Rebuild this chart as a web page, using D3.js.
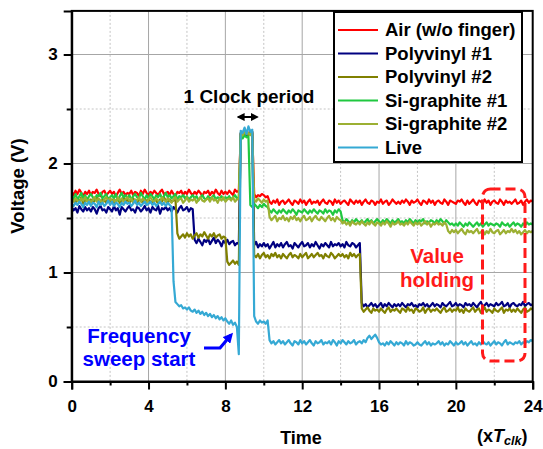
<!DOCTYPE html>
<html>
<head>
<meta charset="utf-8">
<script src="https://cdn.jsdelivr.net/npm/d3@7"></script>
<style>
  body { margin: 0; background: #fff; }
  svg text { font-family: "Liberation Sans", Arial, sans-serif; font-weight: bold; }
</style>
</head>
<body>
<svg id="chart" width="543" height="449"></svg>
<script>
// sampling interval of the traces, in units of T_clk
const dt = 0.1;

const seriesNames = ['Air (w/o finger)', 'Polyvinyl #1', 'Polyvinyl #2', 'Si-graphite #1', 'Si-graphite #2', 'Live'];
const seriesColors = ['#ff0000', '#000080', '#808000', '#20c840', '#9cb033', '#35a9d4'];

const airV = [
  1.74,1.71,1.75,1.72,1.76,1.73,1.70,1.74,1.72,1.75,
  1.71,1.74,1.73,1.76,1.72,1.70,1.74,1.75,1.71,1.73,
  1.75,1.72,1.74,1.70,1.73,1.76,1.72,1.74,1.71,1.73,
  1.72,1.75,1.71,1.74,1.73,1.70,1.75,1.72,1.76,1.73,
  1.71,1.74,1.72,1.75,1.73,1.71,1.74,1.76,1.72,1.73,
  1.74,1.71,1.75,1.72,1.70,1.74,1.73,1.75,1.71,1.74,
  1.72,1.76,1.73,1.71,1.74,1.72,1.75,1.73,1.70,1.74,
  1.73,1.75,1.71,1.74,1.72,1.76,1.73,1.71,1.75,1.72,
  1.74,1.72,1.75,1.73,1.71,1.76,1.74,1.75,2.27,2.29,
  2.26,2.28,2.27,2.30,2.28,1.72,1.69,1.71,1.70,1.72,
  1.71,1.69,1.70,1.65,1.63,1.66,1.64,1.67,1.62,1.65,
  1.66,1.63,1.65,1.67,1.64,1.62,1.66,1.65,1.63,1.67,
  1.64,1.66,1.62,1.65,1.67,1.63,1.65,1.64,1.66,1.62,
  1.65,1.67,1.64,1.63,1.66,1.65,1.62,1.67,1.64,1.66,
  1.63,1.65,1.66,1.64,1.62,1.67,1.65,1.63,1.66,1.64,
  1.66,1.62,1.65,1.67,1.64,1.63,1.66,1.65,1.62,1.65,
  1.64,1.67,1.63,1.65,1.66,1.62,1.64,1.67,1.65,1.63,
  1.65,1.63,1.66,1.64,1.67,1.65,1.62,1.66,1.64,1.65,
  1.67,1.64,1.62,1.66,1.65,1.63,1.67,1.64,1.66,1.62,
  1.65,1.66,1.64,1.63,1.67,1.65,1.62,1.66,1.65,1.64,
  1.63,1.66,1.65,1.67,1.64,1.62,1.66,1.63,1.65,1.67,
  1.64,1.62,1.66,1.65,1.63,1.67,1.64,1.66,1.62,1.65,
  1.66,1.64,1.63,1.67,1.65,1.62,1.66,1.64,1.65,1.63,
  1.65,1.67,1.63,1.64,1.66,1.62,1.65,1.67,1.64,1.66,
  1.65
];

const poly1V = [
  1.60,1.57,1.59,1.55,1.61,1.58,1.56,1.60,1.57,1.59,
  1.56,1.60,1.58,1.54,1.59,1.61,1.57,1.58,1.55,1.60,
  1.58,1.56,1.61,1.57,1.59,1.53,1.60,1.58,1.56,1.59,
  1.61,1.57,1.58,1.55,1.60,1.59,1.56,1.58,1.61,1.57,
  1.59,1.55,1.60,1.58,1.57,1.61,1.54,1.59,1.58,1.60,
  1.57,1.59,1.56,1.60,1.58,1.55,1.59,1.61,1.57,1.58,
  1.60,1.56,1.59,1.58,1.30,1.27,1.31,1.28,1.25,1.30,
  1.28,1.31,1.26,1.29,1.32,1.27,1.30,1.28,1.24,1.29,
  1.27,1.30,1.26,1.28,1.29,1.25,1.27,1.26,2.28,2.27,
  2.29,2.26,2.28,2.27,2.29,1.25,1.28,1.23,1.26,1.24,
  1.27,1.24,1.26,1.22,1.25,1.28,1.23,1.26,1.24,1.27,
  1.23,1.26,1.28,1.24,1.25,1.22,1.27,1.25,1.23,1.26,
  1.28,1.24,1.25,1.27,1.23,1.26,1.24,1.28,1.25,1.22,
  1.26,1.24,1.27,1.25,1.23,1.28,1.24,1.26,1.25,1.27,
  1.24,1.26,1.23,1.28,1.25,1.24,1.27,1.26,1.23,1.25,
  1.27,0.72,0.69,0.71,0.68,0.70,0.72,0.69,0.71,0.68,
  0.70,0.72,0.68,0.71,0.69,0.72,0.70,0.68,0.71,0.69,
  0.71,0.69,0.72,0.70,0.68,0.71,0.70,0.72,0.69,0.70,
  0.68,0.71,0.70,0.72,0.69,0.71,0.68,0.70,0.72,0.69,
  0.71,0.70,0.68,0.72,0.70,0.69,0.71,0.73,0.69,0.70,
  0.72,0.69,0.71,0.70,0.68,0.72,0.70,0.71,0.69,0.72,
  0.70,0.68,0.71,0.73,0.69,0.70,0.72,0.69,0.71,0.70,
  0.69,0.72,0.70,0.71,0.73,0.69,0.70,0.72,0.68,0.71,
  0.72,0.70,0.69,0.71,0.70,0.73,0.69,0.71,0.72,0.70,
  0.71
];

const poly2V = [
  1.66,1.68,1.64,1.67,1.65,1.69,1.63,1.66,1.68,1.65,
  1.67,1.64,1.66,1.69,1.65,1.63,1.67,1.66,1.64,1.68,
  1.65,1.67,1.63,1.66,1.68,1.64,1.66,1.69,1.65,1.67,
  1.64,1.66,1.68,1.65,1.63,1.67,1.66,1.64,1.68,1.65,
  1.67,1.65,1.64,1.68,1.66,1.63,1.67,1.65,1.69,1.66,
  1.64,1.67,1.65,1.66,1.68,1.36,1.31,1.33,1.35,1.32,
  1.36,1.33,1.35,1.31,1.34,1.36,1.32,1.35,1.33,1.37,
  1.34,1.31,1.35,1.33,1.36,1.32,1.34,1.35,1.31,1.33,
  1.32,1.10,1.07,1.09,1.11,1.08,1.10,1.07,2.27,2.26,
  2.28,2.29,2.26,2.28,2.27,1.16,1.14,1.17,1.13,1.16,
  1.18,1.14,1.16,1.13,1.17,1.15,1.18,1.14,1.16,1.13,
  1.17,1.15,1.13,1.16,1.18,1.14,1.16,1.15,1.13,1.17,
  1.14,1.16,1.18,1.13,1.15,1.17,1.14,1.16,1.18,1.15,
  1.16,1.13,1.17,1.15,1.14,1.18,1.16,1.13,1.15,1.17,
  1.15,1.17,1.14,1.16,1.13,1.18,1.15,1.17,1.14,1.16,
  1.17,0.67,0.64,0.66,0.68,0.65,0.63,0.67,0.65,0.66,
  0.64,0.67,0.65,0.63,0.66,0.68,0.64,0.66,0.65,0.67,
  0.65,0.63,0.67,0.66,0.64,0.68,0.65,0.66,0.63,0.67,
  0.66,0.64,0.65,0.68,0.63,0.66,0.67,0.64,0.66,0.65,
  0.67,0.65,0.63,0.66,0.68,0.64,0.65,0.67,0.64,0.66,
  0.65,0.68,0.64,0.66,0.63,0.67,0.65,0.64,0.66,0.68,
  0.64,0.66,0.67,0.63,0.65,0.68,0.64,0.66,0.65,0.63,
  0.67,0.65,0.64,0.66,0.68,0.63,0.66,0.65,0.67,0.64,
  0.66,0.64,0.67,0.65,0.63,0.66,0.68,0.64,0.65,0.67,
  0.66
];

const sig1V = [
  1.70,1.68,1.72,1.67,1.70,1.73,1.68,1.71,1.66,1.70,
  1.72,1.69,1.67,1.71,1.70,1.73,1.68,1.70,1.72,1.67,
  1.69,1.71,1.68,1.72,1.66,1.70,1.73,1.69,1.71,1.68,
  1.71,1.67,1.70,1.72,1.69,1.68,1.73,1.70,1.67,1.71,
  1.68,1.72,1.70,1.67,1.71,1.69,1.72,1.68,1.70,1.73,
  1.69,1.71,1.68,1.70,1.72,1.67,1.70,1.69,1.71,1.68,
  1.70,1.67,1.69,1.71,1.68,1.70,1.66,1.69,1.71,1.68,
  1.67,1.70,1.68,1.69,1.71,1.67,1.69,1.68,1.70,1.67,
  1.69,1.68,1.70,1.67,1.69,1.71,1.68,1.69,2.25,2.23,
  2.26,2.24,2.25,1.62,1.60,1.63,1.61,1.59,1.62,1.60,
  1.63,1.61,1.60,1.57,1.55,1.58,1.56,1.54,1.57,1.55,
  1.58,1.56,1.54,1.57,1.55,1.58,1.56,1.53,1.57,1.56,
  1.55,1.58,1.56,1.54,1.57,1.55,1.58,1.56,1.54,1.57,
  1.56,1.54,1.58,1.55,1.57,1.56,1.53,1.57,1.55,1.58,
  1.56,1.48,1.46,1.49,1.47,1.45,1.48,1.46,1.49,1.47,
  1.46,1.48,1.45,1.47,1.49,1.46,1.48,1.45,1.47,1.49,
  1.47,1.45,1.48,1.46,1.49,1.47,1.45,1.48,1.46,1.47,
  1.49,1.46,1.47,1.45,1.48,1.46,1.49,1.47,1.45,1.48,
  1.46,1.48,1.47,1.49,1.45,1.47,1.46,1.48,1.47,1.45,
  1.48,1.46,1.49,1.47,1.45,1.48,1.46,1.44,1.45,1.43,
  1.45,1.43,1.46,1.44,1.42,1.45,1.43,1.46,1.44,1.42,
  1.44,1.46,1.43,1.45,1.42,1.44,1.46,1.43,1.45,1.44,
  1.43,1.45,1.44,1.42,1.46,1.44,1.43,1.45,1.42,1.44,
  1.46,1.43,1.45,1.44,1.42,1.45,1.43,1.46,1.44,1.45,
  1.44
];

const sig2V = [
  1.67,1.65,1.68,1.66,1.64,1.68,1.66,1.69,1.65,1.67,
  1.64,1.67,1.69,1.65,1.68,1.66,1.64,1.67,1.69,1.66,
  1.68,1.65,1.67,1.64,1.69,1.66,1.68,1.65,1.67,1.69,
  1.66,1.68,1.64,1.67,1.66,1.69,1.65,1.68,1.66,1.64,
  1.67,1.69,1.66,1.65,1.68,1.66,1.64,1.69,1.67,1.65,
  1.68,1.66,1.64,1.67,1.69,1.65,1.67,1.68,1.64,1.66,
  1.69,1.65,1.67,1.66,1.68,1.64,1.67,1.69,1.66,1.65,
  1.67,1.68,1.65,1.69,1.66,1.67,1.64,1.68,1.66,1.69,
  1.65,1.67,1.68,1.66,1.69,1.65,1.67,1.68,2.28,2.26,
  2.29,2.27,2.28,2.26,2.29,1.67,1.65,1.68,1.66,1.64,
  1.67,1.65,1.66,1.51,1.48,1.50,1.52,1.47,1.50,1.49,
  1.52,1.48,1.50,1.47,1.51,1.49,1.52,1.48,1.50,1.47,
  1.50,1.52,1.48,1.49,1.51,1.47,1.50,1.52,1.49,1.48,
  1.51,1.49,1.47,1.50,1.52,1.48,1.50,1.47,1.51,1.49,
  1.48,1.45,1.47,1.44,1.46,1.43,1.47,1.45,1.44,1.46,
  1.44,1.47,1.45,1.43,1.46,1.44,1.47,1.45,1.43,1.46,
  1.45,1.43,1.46,1.44,1.47,1.45,1.42,1.46,1.44,1.45,
  1.47,1.44,1.45,1.43,1.46,1.44,1.47,1.45,1.43,1.46,
  1.44,1.46,1.43,1.45,1.47,1.44,1.46,1.42,1.45,1.44,
  1.46,1.44,1.45,1.43,1.46,1.44,1.38,1.36,1.39,1.37,
  1.39,1.36,1.38,1.40,1.37,1.35,1.39,1.37,1.38,1.36,
  1.38,1.40,1.36,1.37,1.39,1.35,1.38,1.36,1.40,1.37,
  1.36,1.38,1.39,1.35,1.37,1.39,1.36,1.38,1.37,1.40,
  1.37,1.39,1.36,1.38,1.35,1.37,1.39,1.36,1.38,1.37,
  1.38
];

const liveV = [
  1.63,1.61,1.64,1.62,1.65,1.63,1.60,1.64,1.62,1.65,
  1.61,1.64,1.63,1.60,1.65,1.62,1.64,1.61,1.63,1.66,
  1.62,1.65,1.61,1.64,1.63,1.60,1.64,1.62,1.65,1.63,
  1.64,1.61,1.63,1.66,1.62,1.64,1.61,1.63,1.65,1.62,
  1.63,1.65,1.62,1.64,1.61,1.63,1.65,1.62,1.64,1.61,
  1.64,1.62,1.60,0.92,0.73,0.71,0.69,0.70,0.67,0.68,
  0.66,0.68,0.65,0.64,0.66,0.63,0.65,0.62,0.64,0.61,
  0.63,0.60,0.62,0.59,0.61,0.58,0.60,0.57,0.59,0.56,
  0.58,0.55,0.53,0.56,0.52,0.54,0.50,0.25,2.30,2.28,
  2.33,2.27,2.34,2.29,2.31,0.60,0.55,0.53,0.56,0.54,
  0.55,0.53,0.56,0.38,0.35,0.37,0.34,0.36,0.38,0.35,
  0.37,0.34,0.36,0.38,0.35,0.33,0.37,0.36,0.34,0.38,
  0.35,0.37,0.34,0.36,0.38,0.35,0.33,0.37,0.35,0.36,
  0.38,0.34,0.36,0.35,0.37,0.34,0.38,0.36,0.33,0.37,
  0.35,0.38,0.36,0.34,0.37,0.35,0.36,0.38,0.34,0.36,
  0.37,0.35,0.38,0.36,0.40,0.42,0.39,0.41,0.43,0.40,
  0.36,0.34,0.35,0.33,0.36,0.34,0.37,0.35,0.33,0.36,
  0.34,0.36,0.35,0.33,0.37,0.34,0.36,0.35,0.33,0.34,
  0.36,0.34,0.33,0.35,0.37,0.34,0.36,0.33,0.35,0.34,
  0.35,0.37,0.34,0.36,0.33,0.35,0.34,0.37,0.35,0.33,
  0.36,0.34,0.35,0.37,0.34,0.36,0.33,0.35,0.37,0.34,
  0.35,0.33,0.36,0.34,0.37,0.35,0.34,0.36,0.33,0.35,
  0.37,0.34,0.36,0.35,0.33,0.36,0.38,0.34,0.36,0.35,
  0.34,0.36,0.35,0.37,0.34,0.36,0.35,0.37,0.36,0.38,
  0.37
];

const xMajorTicks = [0, 4, 8, 12, 16, 20, 24];
const xMinorTicks = [2, 6, 10, 14, 18, 22];
const yMajorTicks = [0, 1, 2, 3];
const yMinorTicks = [0.5, 1.5, 2.5];

const plot = {left: 71.7, right: 532.7, top: 10.9, bottom: 381.5};

const x = d3.scaleLinear().domain([0, 24]).range([plot.left, plot.right]);
const y = d3.scaleLinear().domain([0, 3.4]).range([plot.bottom, plot.top]);

const svg = d3.select('#chart');

svg.append('defs').append('clipPath')
  .attr('id', 'clip')
  .append('rect')
  .attr('x', plot.left).attr('y', plot.top)
  .attr('width', plot.right - plot.left).attr('height', plot.bottom - plot.top);

// grid
let grid = svg.append('g').attr('class', 'grid');
grid.selectAll('.gx-major').data(xMajorTicks.slice(1, -1)).enter().append('line')
  .attr('x1', d => x(d)).attr('x2', d => x(d))
  .attr('y1', plot.top).attr('y2', plot.bottom)
  .attr('stroke', '#a6a6a6').attr('stroke-width', 1);
grid.selectAll('.gx-minor').data(xMinorTicks).enter().append('line')
  .attr('x1', d => x(d)).attr('x2', d => x(d))
  .attr('y1', plot.top).attr('y2', plot.bottom)
  .attr('stroke', '#c4c4c4').attr('stroke-width', 1).attr('stroke-dasharray', '2,2');
grid.selectAll('.gy-major').data(yMajorTicks.slice(1)).enter().append('line')
  .attr('x1', plot.left).attr('x2', plot.right)
  .attr('y1', d => y(d)).attr('y2', d => y(d))
  .attr('stroke', '#a6a6a6').attr('stroke-width', 1);
grid.selectAll('.gy-minor').data(yMinorTicks).enter().append('line')
  .attr('x1', plot.left).attr('x2', plot.right)
  .attr('y1', d => y(d)).attr('y2', d => y(d))
  .attr('stroke', '#c4c4c4').attr('stroke-width', 1).attr('stroke-dasharray', '2,2');

// traces
const allValues = [airV, poly1V, poly2V, sig1V, sig2V, liveV];
const series = seriesNames.map((name, k) => ({name: name, color: seriesColors[k], values: allValues[k]}));

const line = d3.line()
  .x((d, i) => x(i * dt))
  .y(d => y(d));

svg.append('g').attr('clip-path', 'url(#clip)')
  .selectAll('path').data(series).enter().append('path')
  .attr('d', d => line(d.values))
  .attr('fill', 'none')
  .attr('stroke', d => d.color)
  .attr('stroke-width', 2.2)
  .attr('stroke-linejoin', 'round');

// frame
svg.append('rect')
  .attr('x', plot.left).attr('y', plot.top)
  .attr('width', plot.right - plot.left).attr('height', plot.bottom - plot.top)
  .attr('fill', 'none').attr('stroke', '#000').attr('stroke-width', 2);

// axes
svg.append('g').attr('transform', `translate(0, ${plot.bottom})`)
  .call(d3.axisBottom(x).tickValues(xMajorTicks).tickSize(8).tickPadding(10).tickFormat(d3.format('d')));
svg.append('g').attr('transform', `translate(0, ${plot.bottom})`)
  .call(d3.axisBottom(x).tickValues(xMinorTicks).tickSize(4).tickFormat(''))
  .call(g => g.select('.domain').remove());
svg.append('g').attr('transform', `translate(${plot.left}, 0)`)
  .call(d3.axisLeft(y).tickValues(yMajorTicks).tickSize(8).tickPadding(6).tickFormat(d3.format('d')));
svg.append('g').attr('transform', `translate(${plot.left}, 0)`)
  .call(d3.axisLeft(y).tickValues(yMinorTicks).tickSize(5).tickFormat(''))
  .call(g => g.select('.domain').remove());

svg.selectAll('.domain').attr('stroke-width', 2);
svg.selectAll('.tick line').attr('stroke-width', 2);
svg.selectAll('.tick text')
  .attr('font-family', '"Liberation Sans", Arial, sans-serif')
  .attr('font-weight', 'bold')
  .attr('font-size', 17)
  .attr('fill', '#000');

// axis titles
svg.append('text')
  .attr('transform', 'translate(24, 186) rotate(-90)')
  .attr('text-anchor', 'middle')
  .attr('font-size', 18.5)
  .text('Voltage (V)');

svg.append('text')
  .attr('x', 301).attr('y', 444)
  .attr('text-anchor', 'middle')
  .attr('font-size', 18)
  .text('Time');

let unit = svg.append('text')
  .attr('x', 477).attr('y', 442)
  .attr('font-size', 18);
unit.append('tspan').text('(x');
unit.append('tspan').attr('font-style', 'italic').text('T');
unit.append('tspan').attr('font-style', 'italic').attr('font-size', 12.5).attr('dy', 3).text('clk');
unit.append('tspan').attr('dy', -3).text(')');

// legend
let legend = svg.append('g');
legend.append('rect')
  .attr('x', 334).attr('y', 12).attr('width', 188).attr('height', 150)
  .attr('fill', '#fff').attr('stroke', '#000').attr('stroke-width', 2);
let item = legend.selectAll('.item').data(series).enter().append('g')
  .attr('transform', (d, i) => `translate(0, ${30 + i * 23.5})`);
item.append('line')
  .attr('x1', 338).attr('x2', 378)
  .attr('stroke', d => d.color).attr('stroke-width', 2);
item.append('text')
  .attr('x', 385).attr('dy', '0.35em')
  .attr('font-size', 18.5)
  .text(d => d.name);

// annotations
svg.append('defs').html(
  '<marker id="ahb" viewBox="0 0 10 10" refX="8" refY="5" markerWidth="4" markerHeight="4" orient="auto-start-reverse">' +
  '<path d="M0,0L10,5L0,10z" fill="#000"/></marker>' +
  '<marker id="ahblue" viewBox="0 0 10 10" refX="7" refY="5" markerWidth="3.2" markerHeight="3.2" orient="auto">' +
  '<path d="M0,0L10,5L0,10z" fill="#0000ff"/></marker>');

svg.append('text')
  .attr('x', 249).attr('y', 103)
  .attr('text-anchor', 'middle')
  .attr('font-size', 19)
  .text('1 Clock period');

svg.append('line')
  .attr('x1', x(8.72) - 1).attr('x2', x(9.5) + 3)
  .attr('y1', 117).attr('y2', 117)
  .attr('stroke', '#000').attr('stroke-width', 2)
  .attr('marker-start', 'url(#ahb)').attr('marker-end', 'url(#ahb)');

let freq = svg.append('text')
  .attr('x', 139).attr('y', 343)
  .attr('text-anchor', 'middle')
  .attr('font-size', 20.5)
  .attr('fill', '#0000ff');
freq.append('tspan').attr('x', 139).text('Frequency');
freq.append('tspan').attr('x', 139).attr('dy', 22.5).text('sweep start');

svg.append('path')
  .attr('d', 'M204,348L220,348L231,335')
  .attr('fill', 'none').attr('stroke', '#0000ff').attr('stroke-width', 3.2)
  .attr('marker-end', 'url(#ahblue)');

let hold = svg.append('text')
  .attr('x', 437).attr('y', 263)
  .attr('text-anchor', 'middle')
  .attr('font-size', 20.5)
  .attr('fill', '#ff1a1a');
hold.append('tspan').attr('x', 437).text('Value');
hold.append('tspan').attr('x', 437).attr('dy', 24).text('holding');

svg.append('rect')
  .attr('x', 482.5).attr('y', 189).attr('width', 42.5).attr('height', 172)
  .attr('rx', 8).attr('ry', 8)
  .attr('fill', 'none').attr('stroke', '#ff1a1a').attr('stroke-width', 3)
  .attr('stroke-dasharray', '10,5');
</script>
</body>
</html>
